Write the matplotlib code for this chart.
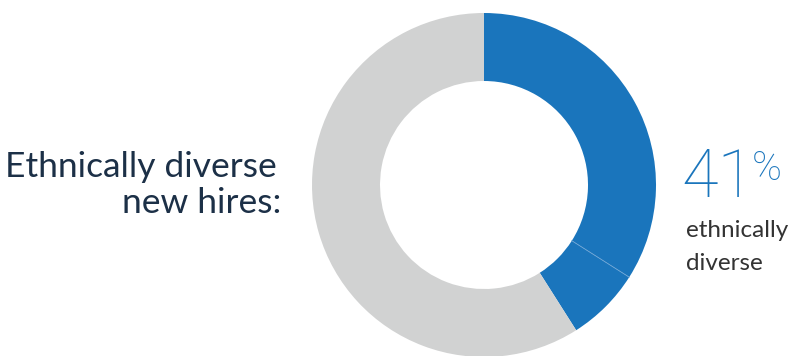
import numpy as np
import matplotlib.pyplot as plt

plt.rcParams['font.family'] = ['Lato', 'DejaVu Sans']

# share of new hires (percent), clockwise from 12 o'clock
segments = [34, 7, 59]
seg_colors = ['#1a75bc', '#1a75bc', '#d1d2d2']
diverse_pct = 41
title_lines = ['Ethnically diverse', 'new hires:']
sub_lines = ['ethnically', 'diverse']

W, H = 793, 356
fig = plt.figure(figsize=(W / 100, H / 100), dpi=100)
ax = fig.add_axes([0, 0, 1, 1])

cx, cy = 484, H - 185   # donut centre
R, r = 172, 104         # outer / inner radius

ax.pie(segments, colors=seg_colors, startangle=90, counterclock=False,
       radius=R, center=(cx, cy), frame=True,
       wedgeprops=dict(width=R - r, linewidth=0))

# thin divider between the two blue parts
ang = np.deg2rad(90 - 360 * segments[0] / sum(segments))
ax.plot([cx + r * np.cos(ang), cx + R * np.cos(ang)],
        [cy + r * np.sin(ang), cy + R * np.sin(ang)],
        color='#6fa6d6', lw=0.6)

ax.set_xlim(0, W)
ax.set_ylim(0, H)
ax.set_aspect('auto')
ax.axis('off')

navy = '#1c3047'
ax.text(277, H - 177, title_lines[0], ha='right', va='baseline',
        fontsize=25.5, color=navy)
ax.text(281, H - 213, title_lines[1], ha='right', va='baseline',
        fontsize=25.5, color=navy)

ax.text(681, H - 197, str(diverse_pct), ha='left', va='baseline',
        fontsize=48, color='#1a75bc', family='Roboto', fontweight='light')
ax.text(752, H - 180, '%', ha='left', va='baseline',
        fontsize=29, color='#1a75bc', family='Roboto', fontweight='light')
ax.text(686, H - 237, sub_lines[0], ha='left', va='baseline',
        fontsize=17.5, color='#333333')
ax.text(686, H - 270, sub_lines[1], ha='left', va='baseline',
        fontsize=17.5, color='#333333')

fig.savefig('out.png', dpi=100)
